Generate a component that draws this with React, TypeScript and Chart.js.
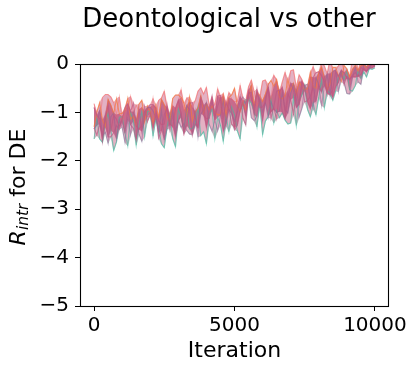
import React, { useEffect, useRef } from 'react';
import { Chart, registerables } from 'chart.js';

Chart.register(...registerables);

const ITERATIONS = [
  0, 100, 200, 300, 400, 500, 600, 700, 800, 900,
  1000, 1100, 1200, 1300, 1400, 1500, 1600, 1700, 1800, 1900,
  2000, 2100, 2200, 2300, 2400, 2500, 2600, 2700, 2800, 2900,
  3000, 3100, 3200, 3300, 3400, 3500, 3600, 3700, 3800, 3900,
  4000, 4100, 4200, 4300, 4400, 4500, 4600, 4700, 4800, 4900,
  5000, 5100, 5200, 5300, 5400, 5500, 5600, 5700, 5800, 5900,
  6000, 6100, 6200, 6300, 6400, 6500, 6600, 6700, 6800, 6900,
  7000, 7100, 7200, 7300, 7400, 7500, 7600, 7700, 7800, 7900,
  8000, 8100, 8200, 8300, 8400, 8500, 8600, 8700, 8800, 8900,
  9000, 9100, 9200, 9300, 9400, 9500, 9600, 9700, 9800, 9900, 10000,
];

const RUN_PINK_A = [
  -1.32, -1.47, -1.24, -1.46, -1.15, -0.84, -1.37, -1.06, -1.14, -1.30,
  -1.13, -0.90, -0.82, -0.98, -0.81, -1.28, -1.35, -1.27, -0.88, -1.19,
  -1.02, -1.33, -1.01, -1.17, -1.25, -1.24, -0.85, -1.23, -1.30, -0.91,
  -0.75, -1.05, -1.44, -1.27, -0.81, -0.80, -1.11, -1.33, -0.70, -0.86,
  -1.31, -0.91, -0.67, -1.14, -0.66, -0.65, -1.11, -0.79, -0.93, -1.24,
  -1.31, -0.91, -0.67, -1.12, -1.26, -0.55, -0.70, -0.92, -0.52, -0.90,
  -0.89, -0.79, -0.47, -0.99, -0.91, -1.13, -0.57, -0.48, -1.00, -0.60,
  -0.74, -1.03, -0.54, -0.84, -0.36, -0.49, -0.78, -0.92, -0.28, -0.18,
  -0.16, -0.24, -0.36, -0.62, -0.20, -0.69, -0.47, -0.38, -0.15, -0.42,
  -0.26, -0.31, -0.25, -0.27, -0.25, -0.22, -0.08, -0.16, -0.04, -0.01, -0.01,
];

const RUN_PINK_B = [
  -0.90, -1.06, -1.13, -1.59, -1.05, -1.51, -1.50, -1.42, -1.27, -1.35,
  -1.18, -1.41, -0.95, -1.26, -1.33, -1.56, -0.94, -1.39, -1.08, -0.93,
  -0.84, -0.84, -0.91, -1.53, -1.37, -1.05, -0.90, -1.35, -1.04, -1.50,
  -1.19, -1.02, -1.41, -0.86, -0.94, -1.47, -1.24, -1.30, -0.75, -1.06,
  -1.13, -1.12, -0.72, -1.11, -0.87, -0.70, -1.39, -1.22, -0.75, -0.98,
  -1.36, -1.27, -0.95, -0.79, -1.08, -0.60, -0.59, -1.05, -0.57, -0.79,
  -1.17, -0.69, -0.52, -1.12, -0.88, -0.56, -0.54, -0.99, -1.13, -0.73,
  -0.40, -0.54, -0.90, -0.82, -0.41, -0.78, -0.76, -0.66, -0.48, -0.77,
  -0.44, -0.58, -0.27, -0.60, -0.63, -0.54, -0.15, -0.26, -0.13, -0.18,
  -0.29, -0.33, -0.23, -0.18, -0.25, -0.07, -0.12, -0.15, -0.08, -0.08, -0.03,
];

const RUN_ORANGE = [
  -1.30, -0.99, -0.80, -1.16, -1.29, -0.73, -0.85, -1.03, -0.72, -1.03,
  -1.02, -0.96, -0.71, -1.14, -1.08, -1.26, -0.83, -0.75, -1.19, -0.87,
  -0.99, -1.24, -0.85, -1.10, -0.73, -0.84, -1.09, -1.21, -0.71, -0.64,
  -0.64, -0.69, -0.81, -1.05, -0.68, -1.17, -0.99, -0.91, -0.65, -1.02,
  -0.83, -0.95, -0.87, -0.99, -1.05, -1.04, -0.66, -1.08, -0.69, -0.64,
  -0.50, -0.87, -0.98, -0.78, -0.95, -0.69, -0.43, -0.85, -0.59, -0.65,
  -0.77, -0.62, -0.42, -0.34, -0.46, -0.32, -0.68, -0.72, -0.65, -0.32,
  -0.55, -0.40, -0.63, -0.37, -0.48, -0.53, -0.51, -0.17, -0.47, -0.50,
  -0.18, -0.06, -0.28, -0.54, -0.41, -0.07, -0.07, -0.24, -0.36, -0.03,
  -0.10, -0.27, -0.11, -0.03, -0.14, -0.03, -0.02, -0.07, 0.00, -0.01, -0.02,
];

const RUN_TEAL = [
  -1.55, -1.12, -1.55, -1.62, -1.20, -1.02, -1.36, -1.79, -1.61, -1.10,
  -1.09, -1.43, -1.69, -1.00, -1.17, -1.68, -1.25, -0.98, -1.50, -0.98,
  -0.97, -1.49, -1.14, -1.31, -1.65, -1.73, -1.30, -1.03, -1.54, -1.71,
  -0.93, -1.10, -1.35, -0.91, -1.34, -1.33, -1.25, -0.89, -1.48, -1.40,
  -1.65, -1.04, -0.94, -1.54, -1.10, -1.26, -1.60, -1.07, -1.40, -0.89,
  -1.05, -1.38, -1.55, -0.85, -0.74, -0.73, -0.81, -0.97, -1.30, -0.78,
  -1.46, -1.18, -1.08, -0.72, -1.22, -0.96, -1.11, -1.01, -1.16, -1.24,
  -1.22, -0.69, -1.27, -0.74, -0.64, -0.44, -0.94, -1.09, -0.81, -1.05,
  -0.69, -0.32, -0.90, -0.54, -0.61, -0.75, -0.56, -0.27, -0.16, -0.32,
  -0.13, -0.54, -0.56, -0.45, -0.12, -0.30, -0.16, -0.27, -0.09, -0.11, -0.08,
];

const RUN_RED = [
  -0.82, -1.07, -1.20, -0.69, -0.63, -0.63, -0.68, -0.80, -1.05, -0.68,
  -1.17, -0.99, -0.92, -0.67, -1.03, -0.85, -0.98, -0.90, -1.02, -1.09,
  -1.08, -0.71, -1.13, -0.75, -0.70, -0.56, -0.94, -1.05, -0.86, -1.04,
  -0.79, -0.53, -0.96, -0.70, -0.77, -0.89, -0.76, -0.56, -0.49, -0.62,
  -0.48, -0.85, -0.89, -0.84, -0.51, -0.75, -0.61, -0.85, -0.59, -0.72,
  -0.78, -0.77, -0.44, -0.75, -0.78, -0.47, -0.33, -0.57, -0.87, -0.73,
  -0.35, -0.33, -0.57, -0.74, -0.23, -0.35, -0.70, -0.37, -0.17, -0.54,
  -0.14, -0.12, -0.48, -0.22, -0.32, -0.55, -0.59, -0.26, -0.05, -0.40,
  -0.51, 0.05, -0.04, -0.20, 0.10, -0.15, -0.13, -0.04, 0.15, -0.19,
  -0.12, -0.25, 0.11, 0.16, -0.14, 0.08, 0.00, -0.09, 0.07, -0.01, 0.07,
];

const RUN_PURPLE = [
  -1.34, -1.26, -0.95, -1.48, -1.41, -1.64, -1.09, -1.01, -1.55, -1.16,
  -1.31, -1.62, -1.15, -1.46, -0.99, -1.14, -1.45, -1.60, -0.98, -0.90,
  -0.89, -0.97, -1.11, -1.42, -0.96, -1.57, -1.34, -1.25, -0.94, -1.39,
  -1.16, -1.31, -1.23, -1.37, -1.45, -1.44, -0.98, -1.51, -1.03, -0.96,
  -0.79, -1.25, -1.39, -1.16, -1.38, -1.06, -0.74, -1.27, -0.95, -1.03,
  -1.18, -1.01, -0.77, -0.68, -0.82, -0.65, -1.11, -1.17, -1.09, -0.69,
  -0.99, -0.81, -1.11, -0.78, -0.93, -1.00, -0.98, -0.58, -0.95, -1.01,
  -0.61, -0.43, -0.72, -1.10, -0.92, -0.44, -0.42, -0.71, -0.92, -0.28,
  -0.42, -0.86, -0.45, -0.20, -0.65, -0.15, -0.13, -0.57, -0.24, -0.36,
  -0.61, -0.62, -0.28, -0.08, -0.37, -0.42, 0.01, -0.05, -0.10, 0.02, -0.05,
];

const X_TICKS = [0, 5000, 10000];
const Y_TICKS = [0, -1, -2, -3, -4, -5];

const TITLE = 'Deontological vs other';
const X_LABEL = 'Iteration';
const Y_LABEL_MAIN = 'R';
const Y_LABEL_SUB = 'intr';
const Y_LABEL_REST = ' for DE';

const FONT = '"DejaVu Sans", "Liberation Sans", sans-serif';

const ALL_RUNS = [RUN_PINK_A, RUN_PINK_B, RUN_ORANGE, RUN_TEAL, RUN_RED, RUN_PURPLE];

// Where the runs overlap: at every logged iteration, the spread of the run values
// (outer = full spread, inner = without the single lowest and highest run).
const rankAt = (i: number, r: number) => ALL_RUNS.map((run) => run[i]).sort((a, b) => a - b)[r];
const SPREAD_LOW = ITERATIONS.map((_, i) => rankAt(i, 0));
const SPREAD_HIGH = ITERATIONS.map((_, i) => rankAt(i, ALL_RUNS.length - 1));
const CORE_LOW = ITERATIONS.map((_, i) => rankAt(i, 1));
const CORE_HIGH = ITERATIONS.map((_, i) => rankAt(i, ALL_RUNS.length - 2));

const toPoints = (ys: number[]) => ys.map((y, i) => ({ x: ITERATIONS[i], y }));

const fmt = (v: number) => (v < 0 ? '\u2212' + Math.abs(v) : String(v));

const framePlugin = {
  id: 'frameAndLabels',
  afterDraw(chart: any) {
    const { ctx, chartArea } = chart;
    const { left, top, right, bottom } = chartArea;
    ctx.save();
    ctx.strokeStyle = '#000';
    ctx.lineWidth = 1.1;
    ctx.strokeRect(Math.round(left) + 0.5, Math.round(top) + 0.5, Math.round(right - left) - 1, Math.round(bottom - top));
    ctx.fillStyle = '#000';
    ctx.font = `26px ${FONT}`;
    ctx.textAlign = 'center';
    ctx.textBaseline = 'alphabetic';
    ctx.fillText(TITLE, 229, 27);
    const mainFont = `italic 22px ${FONT}`;
    const subFont = `italic 15.4px ${FONT}`;
    const restFont = `22px ${FONT}`;
    ctx.font = mainFont;
    const wMain = ctx.measureText(Y_LABEL_MAIN).width;
    ctx.font = subFont;
    const wSub = ctx.measureText(Y_LABEL_SUB).width;
    ctx.font = restFont;
    const wRest = ctx.measureText(Y_LABEL_REST).width;
    const total = wMain + wSub + wRest;
    ctx.translate(25, (top + bottom) / 2 + 2);
    ctx.rotate(-Math.PI / 2);
    ctx.textAlign = 'left';
    let x = -total / 2;
    ctx.font = mainFont;
    ctx.fillText(Y_LABEL_MAIN, x, 0);
    x += wMain;
    ctx.font = subFont;
    ctx.fillText(Y_LABEL_SUB, x, 3);
    x += wSub;
    ctx.font = restFont;
    ctx.fillText(Y_LABEL_REST, x, 0);
    ctx.restore();
  },
};

export default function App() {
  const canvasRef = useRef<HTMLCanvasElement | null>(null);

  useEffect(() => {
    const canvas = canvasRef.current;
    if (!canvas) return;
    const line = (data: number[], color: string, width: number) => ({
      data: toPoints(data),
      borderColor: color,
      backgroundColor: color,
      borderWidth: width,
      pointRadius: 0,
      tension: 0,
      fill: false,
    });
    const band = (data: number[], edge: string, fillColor: string | null) => ({
      data: toPoints(data),
      borderColor: edge,
      backgroundColor: fillColor || 'rgba(0,0,0,0)',
      borderWidth: 1,
      pointRadius: 0,
      tension: 0,
      fill: fillColor ? '+1' : false,
    });
    const chart = new Chart(canvas, {
      type: 'line',
      data: {
        datasets: [
          line(RUN_PINK_A, 'rgba(190, 84, 126, 0.65)', 1.2),
          line(RUN_PINK_B, 'rgba(184, 88, 132, 0.65)', 1.2),
          line(RUN_PURPLE, 'rgba(140, 100, 150, 0.5)', 1.1),
          line(RUN_ORANGE, 'rgba(245, 118, 60, 0.7)', 1.1),
          line(RUN_RED, 'rgba(244, 96, 100, 0.45)', 1.1),
          line(RUN_TEAL, 'rgba(64, 190, 160, 0.6)', 1.1),
          band(CORE_HIGH, 'rgba(196, 90, 128, 0.4)', 'rgba(192, 90, 128, 0.8)'),
          band(CORE_LOW, 'rgba(190, 96, 134, 0.4)', null),
          band(SPREAD_HIGH, 'rgba(240, 110, 100, 0.35)', 'rgba(200, 100, 136, 0.5)'),
          band(SPREAD_LOW, 'rgba(90, 180, 160, 0.35)', null),
        ],
      },
      options: {
        animation: false,
        responsive: false,
        devicePixelRatio: 1,
        layout: { padding: { top: 64, right: 29, bottom: 0, left: 0 } },
        plugins: {
          legend: { display: false },
          tooltip: { enabled: false },
          title: { display: false },
          filler: { propagate: false },
        },
        scales: {
          x: {
            type: 'linear',
            min: -500,
            max: 10500,
            afterBuildTicks: (scale: any) => {
              scale.ticks = X_TICKS.map((v) => ({ value: v }));
            },
            afterFit: (scale: any) => {
              scale.height = 66;
            },
            grid: { display: true, drawOnChartArea: false, drawTicks: true, tickLength: 5, color: '#000', lineWidth: 1 },
            border: { display: false },
            ticks: {
              color: '#000',
              padding: 3,
              maxRotation: 0,
              font: { family: FONT, size: 20 },
              callback: (v: any) => fmt(Number(v)),
            },
            title: {
              display: true,
              text: X_LABEL,
              color: '#000',
              font: { family: FONT, size: 22 },
              padding: { top: 0, bottom: 8 },
            },
          },
          y: {
            type: 'linear',
            min: -5,
            max: 0,
            afterBuildTicks: (scale: any) => {
              scale.ticks = Y_TICKS.map((v) => ({ value: v }));
            },
            afterFit: (scale: any) => {
              scale.width = 80;
            },
            grid: { display: true, drawOnChartArea: false, drawTicks: true, tickLength: 5, color: '#000', lineWidth: 1 },
            border: { display: false },
            ticks: {
              color: '#000',
              padding: 6,
              font: { family: FONT, size: 20 },
              callback: (v: any) => fmt(Number(v)),
            },
          },
        },
      },
      plugins: [framePlugin],
    } as any);
    return () => chart.destroy();
  }, []);

  return (
    <div style={{ position: 'absolute', left: 0, top: 0, width: 418, height: 372, background: '#fff' }}>
      <canvas ref={canvasRef} width={418} height={372} style={{ width: 418, height: 372, display: 'block' }} />
    </div>
  );
}
